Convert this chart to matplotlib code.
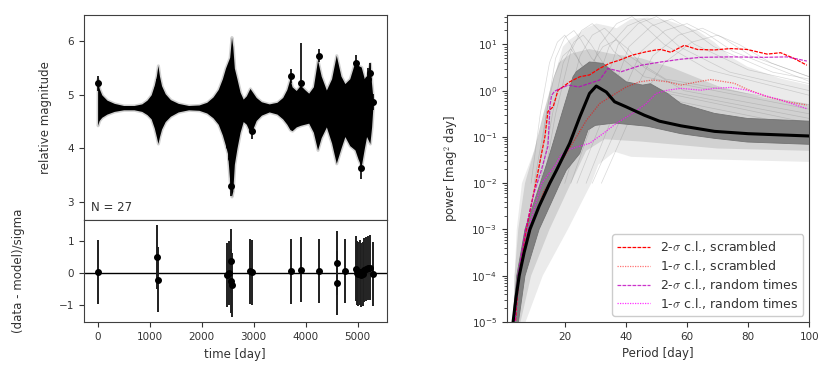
"""
plot.py

Light curve with model realizations and residuals (left), periodogram of
the realizations with scrambled / random-time confidence limits (right).
"""
import numpy as np
import matplotlib
matplotlib.use('Agg')
import matplotlib.pyplot as plt

# ---------------------------------------------------------------- data
# observed points: time [day], magnitude, sigma, normalised residual
obs_time = [0, 1150, 1160, 2480, 2520, 2563, 2575, 2590, 2935, 2962,
            3711, 3910, 4256, 4602, 4610, 4756, 4967, 4990, 5010, 5044,
            5063, 5096, 5130, 5154, 5198, 5237, 5295]
obs_mag = [5.22, 5.10, 4.50, 4.60, 4.04, 3.81, 3.30, 5.20, 4.90, 4.33,
           5.35, 5.22, 5.73, 5.30, 4.10, 5.00, 5.59, 4.50, 5.00, 4.30,
           3.63, 4.70, 5.10, 4.80, 5.30, 5.40, 4.86]
obs_sig = [0.14, 0.20, 0.20, 0.20, 0.20, 0.20, 0.20, 0.20, 0.15, 0.15,
           0.13, 0.75, 0.12, 0.20, 0.20, 0.15, 0.15, 0.20, 0.20, 0.20,
           0.20, 0.20, 0.20, 0.20, 0.20, 0.20, 0.15]
resid = [0.03, 0.50, -0.20, -0.05, 0.00, 0.37, -0.24, -0.38, 0.05, 0.02,
         0.05, 0.11, 0.07, 0.31, -0.31, 0.06, 0.14, 0.00, -0.03, 0.02,
         -0.05, -0.02, 0.10, 0.12, 0.16, 0.17, -0.03]
resid_err = [1.0] * len(resid)

# envelope of the model realizations (relative magnitude)
env_time = [0, 30, 80, 180, 320, 500, 700, 850, 950, 1030, 1090, 1130,
            1160, 1190, 1230, 1300, 1400, 1550, 1750, 1950, 2100, 2220,
            2320, 2400, 2460, 2500, 2540, 2575, 2600, 2630, 2680, 2740,
            2800, 2860, 2930, 2980, 3050, 3150, 3300, 3450, 3560, 3640,
            3700, 3740, 3820, 3900, 3980, 4060, 4150, 4230, 4300, 4400,
            4500, 4590, 4680, 4756, 4850, 4950, 5010, 5070, 5130, 5173,
            5237, 5270, 5295]
env_upper = [5.30, 5.12, 5.00, 4.90, 4.84, 4.80, 4.80, 4.83, 4.90, 5.00,
             5.18, 5.35, 5.55, 5.35, 5.17, 5.02, 4.91, 4.84, 4.80, 4.81,
             4.86, 4.96, 5.10, 5.30, 5.50, 5.60, 5.70, 6.08, 5.90, 5.50,
             5.30, 5.05, 4.92, 4.98, 5.12, 5.05, 4.95, 4.87, 4.83, 4.86,
             4.95, 5.10, 5.30, 5.15, 5.08, 5.18, 5.10, 5.03, 5.15, 5.65,
             5.35, 5.09, 5.30, 5.74, 5.35, 5.21, 5.30, 5.62, 5.55, 5.52,
             5.30, 5.34, 5.59, 5.20, 4.94]
env_lower = [4.43, 4.52, 4.58, 4.64, 4.69, 4.72, 4.72, 4.69, 4.63, 4.55,
             4.38, 4.22, 4.09, 4.22, 4.36, 4.50, 4.60, 4.68, 4.72, 4.71,
             4.66, 4.57, 4.45, 4.25, 4.05, 3.90, 3.40, 3.10, 3.20, 3.70,
             4.00, 4.30, 4.50, 4.45, 4.30, 4.35, 4.52, 4.62, 4.68, 4.64,
             4.55, 4.45, 4.35, 4.33, 4.40, 4.43, 4.45, 4.47, 4.30, 3.97,
             4.20, 4.40, 4.10, 3.72, 4.00, 4.22, 4.05, 3.97, 3.80, 3.66,
             4.00, 4.22, 4.09, 4.40, 4.78]

# periodogram, all powers as log10 [mag^2 day]
med_period = [2.9, 3.1, 4.0, 5.1, 6.7, 8.6, 11.6, 15.1, 17.3, 21.6, 24.9,
              28.1, 30.3, 33.6, 36.3, 40.1, 46.0, 51.0, 58.0, 69.0, 80.0,
              100.0]
med_logp = [-5.3, -5.0, -4.5, -4.0, -3.5, -3.0, -2.5, -2.0, -1.72, -1.14,
            -0.57, -0.06, 0.10, -0.03, -0.24, -0.35, -0.53, -0.66, -0.76,
            -0.88, -0.93, -0.98]

band_hi_period = [2.6, 4.3, 7.0, 12.0, 14.5, 19.4, 22.7, 23.8, 28.1, 32.5,
                  35.7, 40.1, 45.5, 48.0, 53.6, 58.0, 68.9, 79.7, 100.0]
band_hi_logp = [-5.3, -4.0, -3.0, -2.0, -1.5, -0.42, 0.30, 0.41, 0.62,
                0.59, 0.41, 0.19, 0.12, 0.15, -0.06, -0.28, -0.49, -0.60,
                -0.66]
band_lo_period = [4.2, 7.0, 11.6, 18.9, 20.5, 24.9, 27.6, 30.0, 36.3, 47.1,
                  58.0, 68.9, 79.7, 100.0]
band_lo_logp = [-5.3, -4.0, -3.0, -1.94, -1.72, -1.36, -0.85, -0.75, -0.70,
                -0.77, -0.93, -1.03, -1.11, -1.16]

cloud_hi_period = [3.2, 3.6, 4.3, 6.0, 10.0, 13.5, 15.1, 17.0, 19.4, 21.6,
                   23.8, 27.0, 30.3, 34.0, 37.0, 41.7, 47.1, 53.6, 58.0,
                   63.4, 68.9, 74.3, 79.7, 90.6, 100.0]
cloud_hi_logp = [-5.3, -4.0, -3.0, -2.0, -1.3, -0.9, -0.42, 0.40, 0.95,
                 1.10, 1.20, 1.35, 1.45, 1.40, 1.35, 1.55, 1.58, 1.52, 1.42,
                 1.30, 1.05, 0.73, 0.52, 0.26, 0.12]
cloud_lo_period = [5.5, 12.8, 21.0, 28.7, 31.0, 36.3, 41.7, 58.0, 100.0]
cloud_lo_logp = [-5.3, -4.0, -3.0, -2.0, -1.60, -1.32, -1.43, -1.47, -1.54]

dense_hi_period = [3.0, 3.6, 4.8, 7.0, 10.0, 13.0, 16.0, 18.0, 22.0, 28.0,
                   35.0, 45.0, 55.0, 70.0, 85.0, 100.0]
dense_hi_logp = [-5.3, -4.0, -3.0, -2.0, -1.3, -0.5, 0.2, 0.6, 0.8, 0.9,
                 0.8, 0.7, 0.5, 0.1, -0.15, -0.3]
dense_lo_period = [4.5, 9.0, 15.0, 22.0, 27.0, 33.0, 45.0, 70.0, 100.0]
dense_lo_logp = [-5.3, -4.0, -3.0, -2.0, -1.30, -1.05, -1.10, -1.25, -1.30]

# individual realizations with a visible peak
real_period = [
    [9, 12, 15, 17.6, 20, 22, 25, 32, 100],
    [10, 14, 17, 20, 23, 25.3, 28.8, 37, 100],
    [12, 16, 19.5, 23, 26, 28.6, 32.5, 42, 100],
    [13, 17, 22, 25.5, 29, 32, 36, 46, 100],
    [15, 20, 25, 29, 33, 36.3, 41, 53, 100],
    [18, 24, 31.5, 37, 42, 46, 52.5, 67, 100],
    [20, 27, 34.5, 40.5, 46, 50.6, 57.5, 74, 100],
    [22, 30, 37.5, 44, 50, 55, 62.5, 80, 100],
    [24, 33, 41, 48.4, 55, 60.5, 68.8, 88, 100],
    [27, 36, 45, 52.8, 60, 66, 75, 100],
    [29, 39, 48.8, 57.2, 65, 71.5, 81, 100],
    [17, 22, 28, 32.5, 37, 40.7, 46, 59, 100],
    [11, 14, 16.5, 19.4, 22, 24.2, 27.5, 35, 100],
    [32, 42, 52.5, 61.6, 70, 77, 87.5, 100],
]
real_logp = [
    [-2.0, -0.5, 0.6, 1.05, 1.2, 1.0, 0.6, 0.1, -0.8],
    [-2.0, -0.5, 0.7, 1.15, 1.3, 1.1, 0.7, 0.2, -0.6],
    [-2.0, -0.5, 0.6, 1.05, 1.2, 1.0, 0.6, 0.1, -0.7],
    [-2.0, -0.5, 0.85, 1.3, 1.45, 1.25, 0.85, 0.3, -0.4],
    [-2.0, -0.5, 0.75, 1.2, 1.35, 1.15, 0.75, 0.25, -0.3],
    [-2.0, -0.5, 1.0, 1.45, 1.6, 1.4, 1.0, 0.45, -0.1],
    [-2.0, -0.5, 0.95, 1.4, 1.55, 1.35, 0.95, 0.4, 0.0],
    [-2.0, -0.5, 1.0, 1.45, 1.6, 1.4, 1.0, 0.45, 0.15],
    [-2.0, -0.5, 0.95, 1.4, 1.55, 1.35, 0.95, 0.4, 0.25],
    [-2.0, -0.5, 0.85, 1.3, 1.45, 1.25, 0.85, 0.2],
    [-2.0, -0.5, 0.75, 1.2, 1.35, 1.15, 0.75, 0.3],
    [-2.0, -0.5, 0.5, 0.95, 1.1, 0.9, 0.5, 0.0, -0.5],
    [-2.0, -0.5, 0.3, 0.75, 0.9, 0.7, 0.3, -0.2, -1.0],
    [-2.0, -0.5, 0.6, 1.05, 1.2, 1.0, 0.6, 0.3],
]

# confidence limits
scr2_period = [3.5, 5.0, 7.4, 10.5, 13.5, 14.5, 16.2, 17.8, 19.4, 21.6,
               24.9, 28.1, 31.4, 34.6, 37.9, 42.2, 46.6, 49.9, 51.5, 54.7,
               59.1, 63.4, 68.9, 74.3, 79.7, 86.2, 90.6, 94.9, 99.2]
scr2_logp = [-5.3, -4.0, -3.0, -2.0, -1.0, -0.45, -0.35, 0.01, 0.08, 0.19,
             0.30, 0.34, 0.48, 0.59, 0.66, 0.77, 0.84, 0.88, 0.89, 0.83,
             0.98, 0.89, 0.88, 0.91, 0.89, 0.79, 0.82, 0.70, 0.55]
scr1_period = [3.2, 5.0, 8.8, 13.0, 18.4, 20.5, 23.8, 27.1, 31.4, 35.7,
               40.1, 44.4, 48.8, 53.6, 58.0, 63.4, 67.8, 75.4, 79.7, 86.2,
               92.7, 99.2]
scr1_logp = [-5.3, -4.0, -3.0, -2.2, -1.58, -1.36, -1.0, -0.64, -0.28,
             -0.10, 0.08, 0.19, 0.23, 0.19, 0.12, 0.19, 0.24, 0.16, 0.03,
             -0.13, -0.24, -0.31]
rnd2_period = [3.3, 4.7, 7.2, 10.0, 12.0, 14.5, 15.2, 15.7, 16.7, 21.1,
               22.8, 24.6, 31.4, 34.1, 38.5, 45.0, 51.5, 58.0, 64.5, 74.3,
               85.1, 92.7, 99.2]
rnd2_logp = [-5.3, -4.0, -3.0, -2.2, -1.8, -1.2, -0.3, -0.10, -0.01, 0.12,
             0.10, 0.08, 0.23, 0.48, 0.41, 0.55, 0.62, 0.68, 0.72, 0.73,
             0.72, 0.73, 0.64]
rnd1_period = [3.3, 5.0, 8.0, 12.5, 17.0, 18.4, 20.5, 23.8, 28.1, 32.5,
               36.8, 42.2, 46.6, 49.9, 53.6, 58.0, 64.5, 68.9, 74.3, 79.7,
               85.1, 90.6, 99.2]
rnd1_logp = [-5.3, -4.0, -3.0, -2.0, -1.6, -1.43, -1.29, -1.22, -1.14,
             -0.93, -0.71, -0.49, -0.28, -0.06, 0.01, 0.05, 0.01, 0.05,
             0.07, 0.01, -0.10, -0.20, -0.39]

# ---------------------------------------------------------------- style
plt.rcParams['font.family'] = 'DejaVu Sans'
plt.rcParams['mathtext.fontset'] = 'cm'
plt.rcParams['font.size'] = 8.5
plt.rcParams['xtick.labelsize'] = 7.5
plt.rcParams['ytick.labelsize'] = 7.5
plt.rcParams['text.color'] = '0.2'
plt.rcParams['axes.labelcolor'] = '0.2'
plt.rcParams['xtick.color'] = '0.2'
plt.rcParams['ytick.color'] = '0.2'
plt.rcParams['axes.edgecolor'] = '0.25'

fig = plt.figure(figsize=(8.31, 3.77), dpi=100)
ax_lc = fig.add_axes([0.101, 0.4164, 0.3642, 0.5436])
ax_res = fig.add_axes([0.101, 0.1451, 0.3642, 0.2713], sharex=ax_lc)
ax_ps = fig.add_axes([0.6097, 0.1459, 0.3642, 0.8141])

# ---------------------------------------------------------------- light curve
ax_lc.fill_between(env_time, env_lower, env_upper, color='k',
                   edgecolor='0.82', linewidth=2.2, zorder=1)
ax_lc.fill_between(env_time, env_lower, env_upper, color='k', lw=0, zorder=2)
ax_lc.errorbar(obs_time, obs_mag, yerr=obs_sig, fmt='o', color='k',
               ms=4, elinewidth=1.2, zorder=3)
ax_lc.set_ylim(2.66, 6.49)
ax_lc.set_yticks([3, 4, 5, 6])
ax_lc.set_ylabel('relative magnitude')
ax_lc.yaxis.set_label_coords(-0.106, 0.5)
ax_lc.text(0.025, 0.03, 'N = 27', transform=ax_lc.transAxes,
           ha='left', va='bottom')
ax_lc.tick_params(axis='x', bottom=False, labelbottom=False)

# ---------------------------------------------------------------- residuals
ax_res.axhline(0, color='k', lw=1, zorder=1)
ax_res.errorbar(obs_time, resid, yerr=resid_err, fmt='o', color='k',
                ecolor='0.12', ms=4, elinewidth=1.4, zorder=2)
ax_res.set_ylim(-1.53, 1.65)
ax_res.set_yticks([-1, 0, 1])
ax_res.set_xlim(-263, 5558)
ax_res.set_xticks([0, 1000, 2000, 3000, 4000, 5000])
ax_res.set_xlabel('time [day]')
ax_res.set_ylabel('(data - model)/sigma')
ax_res.yaxis.set_label_coords(-0.195, 0.5)


# ---------------------------------------------------------------- periodogram
def poly(p_hi, l_hi, p_lo, l_lo):
    xs = list(p_hi) + list(p_lo)[::-1]
    ys = list(l_hi) + list(l_lo)[::-1]
    return xs, 10.0 ** np.array(ys)


xs, ys = poly(cloud_hi_period, cloud_hi_logp, cloud_lo_period, cloud_lo_logp)
ax_ps.fill(xs, ys, color='0.92', lw=0, zorder=1)
xs, ys = poly(dense_hi_period, dense_hi_logp, dense_lo_period, dense_lo_logp)
ax_ps.fill(xs, ys, color='0.82', lw=0, zorder=1)
for per, lp in zip(real_period, real_logp):
    ax_ps.plot(per, 10.0 ** np.array(lp), color='0.5', lw=0.5, alpha=0.3,
               zorder=2)
xs, ys = poly(band_hi_period, band_hi_logp, band_lo_period, band_lo_logp)
ax_ps.fill(xs, ys, color='0.5', edgecolor='0.45', lw=0.6, zorder=3)

ax_ps.plot(scr2_period, 10.0 ** np.array(scr2_logp), color='r',
           ls=(0, (3, 1)), lw=0.9, zorder=4, label=r'2-$\sigma$ c.l., scrambled')
ax_ps.plot(scr1_period, 10.0 ** np.array(scr1_logp), color='r', alpha=0.55,
           ls=(0, (1, 1)), lw=0.9, zorder=4, label=r'1-$\sigma$ c.l., scrambled')
ax_ps.plot(rnd2_period, 10.0 ** np.array(rnd2_logp), color='m', alpha=0.8,
           ls=(0, (3, 1)), lw=0.9, zorder=4,
           label=r'2-$\sigma$ c.l., random times')
ax_ps.plot(rnd1_period, 10.0 ** np.array(rnd1_logp), color='magenta',
           alpha=0.8, ls=(0, (1, 1)), lw=0.9, zorder=4,
           label=r'1-$\sigma$ c.l., random times')
ax_ps.plot(med_period, 10.0 ** np.array(med_logp), color='k', lw=2.2,
           zorder=5)

ax_ps.set_yscale('log')
ax_ps.set_xlim(1, 100)
ax_ps.set_ylim(1e-5, 43)
ax_ps.set_xticks([20, 40, 60, 80, 100])
ax_ps.set_xlabel('Period [day]')
ax_ps.set_ylabel(r'power [mag$^2$ day]')
ax_ps.yaxis.set_label_coords(-0.154, 0.5)
ax_ps.legend(loc='lower right', fontsize=9, handlelength=2.6,
             labelspacing=0.3, framealpha=1, edgecolor='0.8',
             borderaxespad=0.5)

for ax in (ax_lc, ax_res, ax_ps):
    ax.tick_params(direction='out', length=3.5, width=0.8)
ax_ps.tick_params(which='minor', length=2, width=0.6)

fig.savefig('out.png', dpi=100)
plt.close(fig)
